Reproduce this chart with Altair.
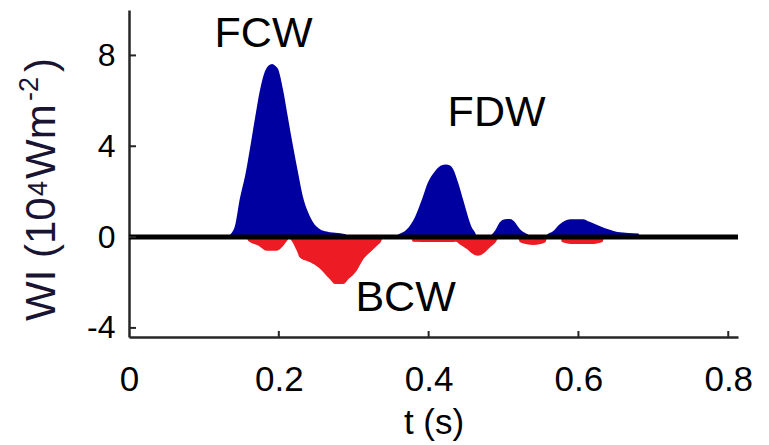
import altair as alt
import pandas as pd

# ---- data ----
# forward (positive) wave intensity, 10^4 W m^-2
t_fwd = [0.133, 0.135, 0.1415, 0.148, 0.155, 0.1615, 0.168, 0.175, 0.1815, 0.186, 0.191, 0.195, 0.199,
         0.2056, 0.212, 0.219, 0.2256, 0.232, 0.239, 0.2457, 0.255, 0.264, 0.272, 0.2857, 0.290, 0.292,
         0.357, 0.359, 0.365, 0.371, 0.382, 0.391, 0.399, 0.4085, 0.4166, 0.423, 0.4285, 0.4326, 0.4393,
         0.446, 0.4526, 0.458, 0.462, 0.4646,
         0.481, 0.484, 0.489, 0.495, 0.502, 0.509, 0.514, 0.522, 0.529, 0.533, 0.535,
         0.556, 0.558, 0.566, 0.575, 0.589, 0.606, 0.615, 0.629, 0.642, 0.652, 0.667, 0.680, 0.682]
wi_fwd = [0.0, 0.1, 0.5, 1.7, 2.7, 3.9, 5.2, 6.5, 7.3, 7.55, 7.62, 7.55, 7.4,
          6.5, 5.3, 4.0, 2.85, 1.8, 1.1, 0.65, 0.35, 0.25, 0.2, 0.15, 0.1, 0.0,
          0.0, 0.1, 0.2, 0.35, 0.9, 1.65, 2.4, 2.9, 3.15, 3.2, 3.15, 3.0, 2.4,
          1.65, 0.9, 0.4, 0.2, 0.0,
          0.0, 0.1, 0.3, 0.65, 0.78, 0.8, 0.7, 0.35, 0.18, 0.1, 0.0,
          0.0, 0.1, 0.26, 0.57, 0.79, 0.79, 0.67, 0.48, 0.32, 0.22, 0.18, 0.16, 0.0]

# backward (negative) wave intensity
t_bwd = [0.157, 0.159, 0.173, 0.184, 0.197, 0.206, 0.211, 0.214, 0.217, 0.224, 0.228, 0.242, 0.253,
         0.268, 0.275, 0.286, 0.293, 0.304, 0.313, 0.322, 0.331, 0.337, 0.339,
         0.376, 0.379, 0.405, 0.430, 0.436, 0.443, 0.452, 0.459, 0.466, 0.474, 0.482, 0.490, 0.494,
         0.519, 0.522, 0.540, 0.556, 0.558,
         0.576, 0.578, 0.590, 0.620, 0.632, 0.634]
wi_bwd = [0.0, -0.16, -0.38, -0.6, -0.6, -0.38, -0.16, -0.05, -0.16, -0.6, -0.9, -1.11, -1.34,
          -1.85, -2.07, -2.07, -1.85, -1.48, -0.97, -0.67, -0.38, -0.16, 0.0,
          0.0, -0.2, -0.22, -0.22, -0.2, -0.35, -0.55, -0.75, -0.82, -0.7, -0.45, -0.2, 0.0,
          0.0, -0.23, -0.35, -0.23, 0.0,
          0.0, -0.22, -0.3, -0.3, -0.22, 0.0]

label_text = ["FCW", "FDW", "BCW"]
label_t = [0.1796, 0.4907, 0.3692]
label_wi = [8.37, 4.89, -3.26]

x_ticks = [0, 0.2, 0.4, 0.6, 0.8]
y_ticks = [-4, 0, 4, 8]

# y-axis title pieces (MATLAB-style super-scripts)
ytitle_parts = ["WI (10", "4", "Wm", "-2", ")"]

# ---- styling ----
FONT = "Liberation Sans"
BLUE = "#0000A0"
RED = "#ED1C24"
AXC = "#262626"
TCOL = "#1a1433"
W, H = 609, 327
L, T = 129, 10

fwd = pd.DataFrame({"t": t_fwd, "wi": wi_fwd})
bwd = pd.DataFrame({"t": t_bwd, "wi": wi_bwd})
labels = pd.DataFrame({"label": label_text, "t": label_t, "wi": label_wi})
xt = pd.DataFrame({"v": x_ticks[1:]})
yt = pd.DataFrame({"v": y_ticks})
one = pd.DataFrame({"a": [0]})

xs = alt.Scale(domain=[0, 0.813], nice=False, zero=False)
ys = alt.Scale(domain=[-4.4, 10], nice=False, zero=False)

x_axis = alt.Axis(values=x_ticks, format=".1~f", title="t (s)", grid=False, ticks=False, tickSize=0,
                  domainColor=AXC, domainWidth=2.5, labelFont=FONT, labelFontSize=35,
                  labelColor="black", labelPadding=25, labelFlush=False,
                  titleFont=FONT, titleFontSize=35, titleFontWeight="normal", titleColor="black",
                  titleBaseline="alphabetic", titleY=96)
y_axis = alt.Axis(values=y_ticks, title=None, grid=False, ticks=False, tickSize=0,
                  labelExpr="datum.value < 0 ? '-' + abs(datum.value) : '' + datum.value",
                  domainColor=AXC, domainWidth=2.5, labelFont=FONT, labelFontSize=32,
                  labelColor="black", labelPadding=14, labelFlush=False)

area_f = alt.Chart(fwd).mark_area(color=BLUE, interpolate="monotone").encode(
    x=alt.X("t:Q", scale=xs, axis=x_axis),
    y=alt.Y("wi:Q", scale=ys, axis=y_axis),
)
area_b = alt.Chart(bwd).mark_area(color=RED, interpolate="monotone").encode(
    x=alt.X("t:Q", scale=xs),
    y=alt.Y("wi:Q", scale=ys),
)
zero = alt.Chart(pd.DataFrame({"z": [0]})).mark_rule(color="black", strokeWidth=5).encode(
    y=alt.Y("z:Q", scale=ys)
)
xtick = alt.Chart(xt).mark_rule(color=AXC, strokeWidth=2).encode(
    x=alt.X("v:Q", scale=xs), y=alt.value(H), y2=alt.value(H - 6)
)
ytick = alt.Chart(yt).mark_rule(color=AXC, strokeWidth=2).encode(
    y=alt.Y("v:Q", scale=ys), x=alt.value(0), x2=alt.value(7)
)
text = alt.Chart(labels).mark_text(font=FONT, fontSize=43, color="black", align="center",
                                   baseline="alphabetic").encode(
    x=alt.X("t:Q", scale=xs), y=alt.Y("wi:Q", scale=ys), text="label:N"
)

# rotated y title built from pieces: (font size, baseline x px, start y px) — layout only
part_layout = [(42, 55, 321), (27, 47, 196), (42, 55, 179), (27, 38, 101), (42, 55, 72)]
title_layers = []
for s, (fs, bx, sy) in zip(ytitle_parts, part_layout):
    title_layers.append(
        alt.Chart(one).mark_text(text=s, font=FONT, fontSize=fs, color=TCOL, angle=270,
                                 align="left", baseline="alphabetic").encode(
            x=alt.value(bx - L), y=alt.value(sy - T)
        )
    )

chart = alt.layer(area_f, area_b, zero, xtick, ytick, text, *title_layers).properties(
    width=W, height=H,
    padding={"left": L, "top": T, "right": 31, "bottom": 108},
    autosize=alt.AutoSizeParams(type="none"),
    background="white",
).configure_view(stroke=None)

chart.save("out.html", embed_options={"renderer": "svg", "actions": False})
